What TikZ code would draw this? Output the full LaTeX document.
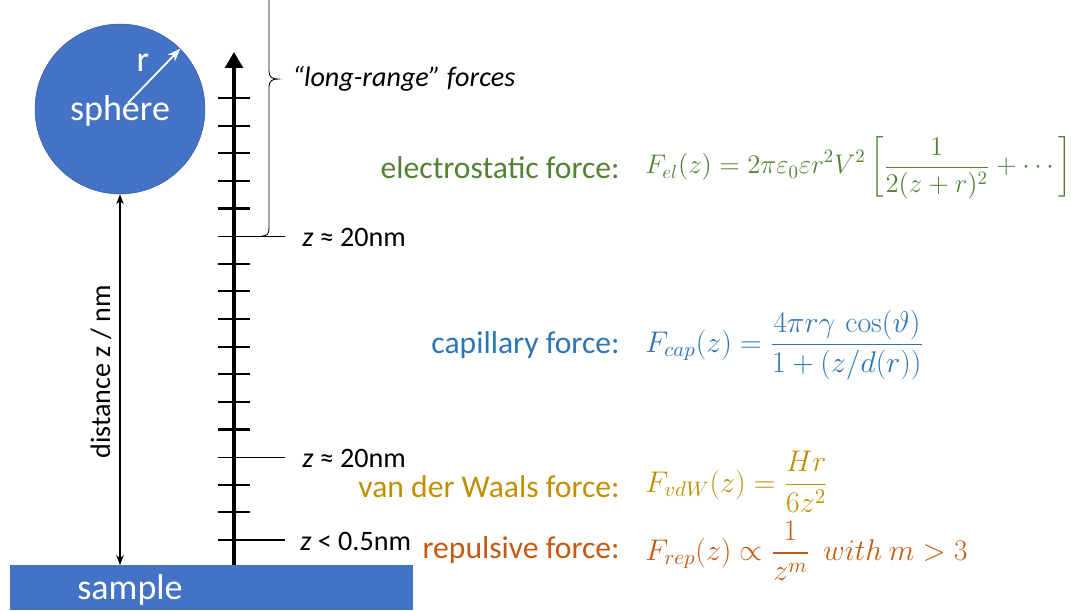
\RequirePackage{fix-cm}
\documentclass[tikz,border=0pt]{standalone}
\usepackage{amsmath}
\usepackage[no-math]{fontspec}
\setmainfont{Carlito}
\usetikzlibrary{arrows.meta}
\definecolor{boxblue}{HTML}{4472C4}
\definecolor{elgreen}{HTML}{548235}
\definecolor{capblue}{HTML}{2E75B6}
\definecolor{vdwgold}{HTML}{BF9000}
\definecolor{reporange}{HTML}{C55A11}

\begin{document}
\begin{tikzpicture}[x=0.02cm, y=-0.02cm, >=Stealth,
    every node/.style={font=\fontsize{16}{19}\selectfont, inner sep=0pt},
    big/.style={font=\fontsize{20.5}{24}\selectfont, text=white},
    force/.style={font=\fontsize{18}{22}\selectfont, anchor=east},
    formula/.style={font=\fontsize{17}{20}\selectfont, anchor=west},
    shorttick/.style={line width=1.2pt},
    longtick/.style={line width=0.6pt}]
    \useasboundingbox (0,0) rectangle (1080,610);

    % sphere and sample
    \node[circle, fill=boxblue, draw=boxblue!80!black, line width=0.3pt, minimum size=3.4cm] (sphere) at (120,109) {};
    \node[big] (spheretxt) at (120,111) {sphere};
    \coordinate (rstart) at (128,103);
    \draw[->, white, line width=1pt] (rstart) -- (sphere.45);
    \node[big] (rlabel) at (143,63) {r};
    \node[fill=boxblue, minimum width=8.06cm, minimum height=0.9cm, anchor=north west] (sample) at (10,565) {};
    \node[big] (sampletxt) at (130,590) {sample};
    \draw[<->, line width=0.6pt] (sphere.south) -- (sphere.south |- sample.north);
    \node[rotate=90] (dist) at (101,372) {distance z / nm};

    % axis with ticks
    \coordinate (axisbot) at (234,565);
    \coordinate (axistop) at (234,52);
    \draw[line width=2pt, -{Triangle[width=10pt,length=9pt]}] (axisbot) -- (axistop);
    \foreach \i in {0,...,4,6,7,8,9,10,11,12,14,15}
        \draw[shorttick] (218,{98+27.625*\i}) -- (250,{98+27.625*\i});
    \draw[longtick] (218,236.1) -- (285,236.1);
    \draw[longtick] (218,457.1) -- (285,457.1);
    \draw[longtick] (218,540) -- (285,540);
    \node[anchor=west] (z1) at (302,237) {\textit{z} ≈ 20nm};
    \node[anchor=west] (z2) at (302,458) {\textit{z} ≈ 20nm};
    \node[anchor=west] (z3) at (300,541) {\textit{z} < 0.5nm};

    % brace
    \draw[line width=0.5pt] (269,0) -- (269,71) .. controls (269,77) and (272,79) .. (278,79)
        .. controls (272,79) and (269,81) .. (269,87) -- (269,228) .. controls (269,234) and (267,236) .. (262,236);
    \node[anchor=west, font=\itshape\fontsize{16}{19}\selectfont] (longrange) at (292,79) {“long-range” forces};

    % forces
    \node[force, text=elgreen] (el) at (620,168) {electrostatic force:};
    \node[formula, text=elgreen, font=\fontsize{15.3}{19}\selectfont] (elf) at (645,168) {$\displaystyle F_{el}(z)=2\pi\varepsilon_0\varepsilon r^2V^2\left[\frac{1}{2(z+r)^2}+\cdots\right]$};
    \node[force, text=capblue] (cap) at (620,345) {capillary force:};
    \node[formula, text=capblue] (capf) at (645,345) {$\displaystyle F_{cap}(z)=\frac{4\pi r\gamma\,\cos(\vartheta)}{1+(z/d(r))}$};
    \node[force, text=vdwgold] (vdw) at (620,487) {van der Waals force:};
    \node[formula, text=vdwgold] (vdwf) at (645,482) {$\displaystyle F_{vdW}(z)=\frac{Hr}{6z^2}$};
    \node[force, text=reporange] (rep) at (620,550) {repulsive force:};
    \node[formula, text=reporange] (repf) at (645,551) {$\displaystyle F_{rep}(z)\propto\frac{1}{z^m}\ \ with\ m>3$};
\end{tikzpicture}
\end{document}
